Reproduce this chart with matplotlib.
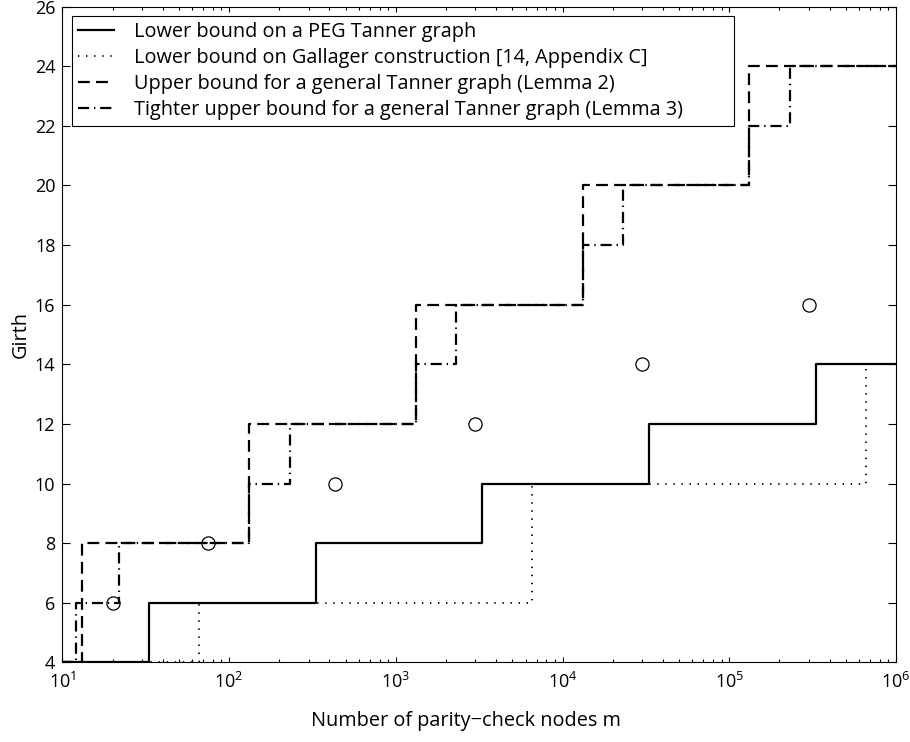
import matplotlib
matplotlib.use('Agg')
import matplotlib.pyplot as plt

plt.rcParams['font.family'] = ['Open Sans', 'DejaVu Sans']
plt.rcParams['mathtext.fontset'] = 'custom'
plt.rcParams['mathtext.rm'] = 'Open Sans'
plt.rcParams['mathtext.it'] = 'Open Sans:italic'
plt.rcParams['lines.scale_dashes'] = False

# step curves: breakpoints m and girth value from that m onwards
peg_m = [10, 33, 330, 3300, 33000, 330000, 1e6]
peg_g = [4, 6, 8, 10, 12, 14, 14]

gallager_m = [10, 66, 6600, 660000, 1e6]
gallager_g = [4, 6, 10, 14, 14]

lemma2_m = [10, 13.2, 132, 1320, 13200, 132000, 1e6]
lemma2_g = [4, 8, 12, 16, 20, 24, 24]

lemma3_m = [10, 12, 22, 132, 231, 1320, 2310, 13200, 23100, 132000, 231000, 1e6]
lemma3_g = [4, 6, 8, 10, 12, 14, 16, 18, 20, 22, 24, 24]

# circle markers
circ_m = [20, 75, 430, 3000, 30000, 300000]
circ_g = [6, 8, 10, 12, 14, 16]

labels = ['Lower bound on a PEG Tanner graph',
          'Lower bound on Gallager construction [14, Appendix C]',
          'Upper bound for a general Tanner graph (Lemma 2)',
          'Tighter upper bound for a general Tanner graph (Lemma 3)']

fs = 14.3       # legend / axis labels
fs_tick = 13
fig = plt.figure(figsize=(9.1, 7.42), dpi=100)
ax = fig.add_axes([0.0685, 0.1074, 0.9161, 0.8836])

ax.step(peg_m, peg_g, where='post', color='k', lw=1.6, label=labels[0])
ax.step(gallager_m, gallager_g, where='post', color='k', lw=1.3,
        linestyle=(0, (1, 4.8)), label=labels[1])
ax.step(lemma2_m, lemma2_g, where='post', color='k', lw=1.6,
        linestyle=(0, (8.5, 4.5)), label=labels[2])
ax.step(lemma3_m, lemma3_g, where='post', color='k', lw=1.6,
        linestyle=(0, (8, 3.5, 1, 3.5)), label=labels[3])
ax.plot(circ_m, circ_g, 'o', mfc='none', mec='k', ms=9.5, mew=0.9, zorder=5)

ax.set_xscale('log')
ax.set_xlim(10, 1e6)
ax.set_ylim(4, 26)
ax.set_yticks(range(4, 27, 2))

ax.tick_params(which='both', direction='in', top=True, right=True,
               labelsize=fs_tick, width=0.8, color='k')
ax.tick_params(axis='x', which='major', length=3.6, pad=7)
ax.tick_params(axis='x', which='minor', length=2.2)
ax.tick_params(axis='y', length=6, pad=5)
for s in ax.spines.values():
    s.set_linewidth(0.8)

ax.set_xlabel('Number of parity\u2212check nodes m', fontsize=fs)
ax.xaxis.set_label_coords(0.484, -0.074)
ax.set_ylabel('Girth', fontsize=fs)
ax.yaxis.set_label_coords(-0.038, 0.5)

leg = ax.legend(loc='upper left', bbox_to_anchor=(0.0113, 0.8226, 0.7944, 0.1634),
                mode='expand', borderaxespad=0, fancybox=False, framealpha=1,
                edgecolor='k', fontsize=fs, handlelength=1.8, handletextpad=1.0,
                borderpad=0.32, labelspacing=0.3)
leg.get_frame().set_linewidth(0.8)

fig.savefig('out.png', dpi=100)
